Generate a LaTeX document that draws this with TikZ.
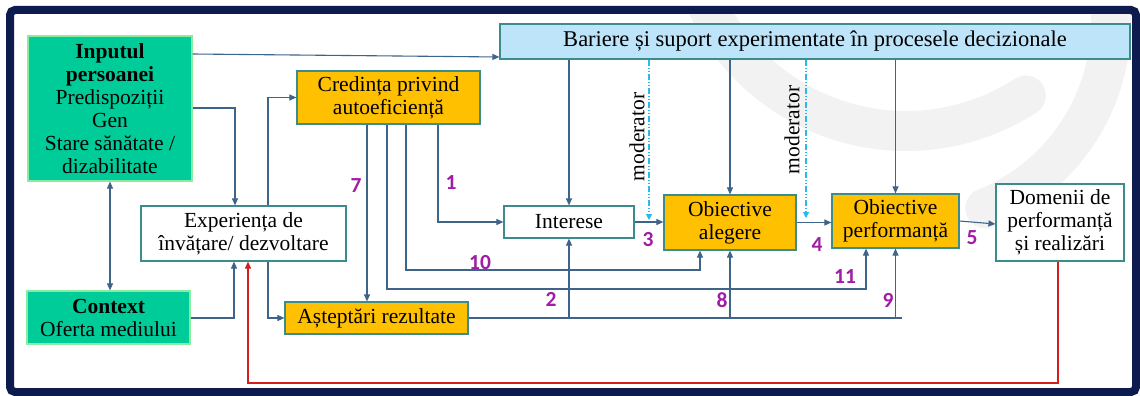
\documentclass[tikz,border=0pt]{standalone}
\usepackage{fontspec}
\setmainfont{Liberation Serif}
\newfontfamily\numfont{Carlito}
\usetikzlibrary{arrows.meta}
\definecolor{navy}{RGB}{14,27,78}
\definecolor{grn}{RGB}{0,204,153}
\definecolor{grnb}{RGB}{140,235,160}
\definecolor{yel}{RGB}{255,192,0}
\definecolor{lblue}{RGB}{190,228,250}
\definecolor{teal2}{RGB}{60,140,140}
\definecolor{arrc}{RGB}{62,100,138}
\definecolor{modc}{RGB}{40,185,240}
\definecolor{redc}{RGB}{210,30,30}
\definecolor{purp}{RGB}{160,30,165}
\definecolor{wm}{RGB}{242,242,242}
\tikzset{
  box/.style={draw=teal2, line width=1.2pt, align=center, inner sep=0pt,
    font=\fontsize{21.5}{23}\selectfont},
  gbox/.style={box, fill=grn, draw=grnb},
  ybox/.style={box, fill=yel},
  wbox/.style={box, fill=white},
  bbox/.style={box, fill=lblue, font=\fontsize{22.5}{24}\selectfont},
  arr/.style={draw=arrc, line width=1.1pt, -{Triangle[length=7pt,width=6pt]}},
  arr2/.style={draw=arrc, line width=1.1pt, {Triangle[length=7pt,width=6pt]}-{Triangle[length=7pt,width=6pt]}},
  ln/.style={draw=arrc, line width=1.1pt},
  mod/.style={draw=modc, line width=1.1pt, dash pattern=on 6pt off 2pt on 1pt off 2pt on 1pt off 2pt, -{Triangle[length=6pt,width=6pt]}},
  redarr/.style={draw=redc, line width=1.1pt, -{Triangle[length=7pt,width=6pt]}},
  num/.style={text=purp, font=\numfont\bfseries\fontsize{21.5}{24}\selectfont, inner sep=0pt},
  modtxt/.style={rotate=90, font=\fontsize{21.5}{23}\selectfont, inner sep=0pt},
  wmarc/.style={draw=wm, line width=40pt, line cap=round}
}
\begin{document}
\begin{tikzpicture}[x=1pt,y=-1pt]
\useasboundingbox (0,0) rectangle (1140,396);
\fill[white] (0,0) rectangle (1140,396);
% faint watermark arcs
\begin{scope}
\clip (14,14) rectangle (1132,388);
\draw[wmarc] (906,-89) ++(57:220) arc[start angle=57, end angle=165, radius=220];
\draw[wmarc] (910,22) ++(-40:201) arc[start angle=-40, end angle=68, radius=201];
\end{scope}
\draw[navy, line width=8pt, rounded corners=5pt] (10,10) rectangle (1136,392);

% nodes
\node[gbox, minimum width=164, minimum height=145] (inp) at (110,108.5)
  {\textbf{Inputul}\\\textbf{persoanei}\\Predispoziții\\Gen\\Stare sănătate /\\dizabilitate};
\node[bbox, minimum width=630, minimum height=35] (bar) at (815,41.5)
  {Bariere și suport experimentate în procesele decizionale};
\node[ybox, minimum width=183, minimum height=53] (cred) at (388.5,97.5)
  {Credința privind\\autoeficiență};
\node[wbox, minimum width=205, minimum height=55] (exp) at (243.5,233.5)
  {Experiența de\\învățare/ dezvoltare};
\node[gbox, minimum width=163, minimum height=53] (ctx) at (108.5,317.5)
  {\textbf{Context}\\Oferta mediului};
\node[ybox, minimum width=183, minimum height=32] (ast) at (376.5,318)
  {Așteptări rezultate};
\node[wbox, minimum width=130, minimum height=32] (int) at (569,222)
  {Interese};
\node[ybox, minimum width=132, minimum height=55] (alg) at (730,222.5)
  {Obiective\\alegere};
\node[ybox, minimum width=127, minimum height=54] (perf) at (895.5,221)
  {Obiective\\performanță};
\node[wbox, minimum width=128, minimum height=77] (dom) at (1060,222.5)
  {Domenii de\\performanță\\și realizări};

% connectors
\draw[arr] (inp.east |- 0,54) -- (bar.west |- 0,57);
\draw[arr] (inp.east |- 0,108) -| (exp.north -| 235,0);
\draw[arr2] (inp.south -| 110,0) -- (ctx.north -| 110,0);
\draw[arr] (ctx.east |- 0,318) -| (exp.south -| 234,0);
\draw[arr] (exp.north -| 268,0) |- (cred.west);
\draw[arr] (exp.south -| 268,0) |- (ast.west);
\draw[arr] (cred.south -| 367,0) -- (ast.north -| 367,0);
\draw[arr] (cred.south -| 387,0) -- (387,289) -| (perf.south -| 866,0);
\draw[arr] (cred.south -| 406,0) -- (406,270) -| (alg.south -| 700,0);
\draw[arr] (cred.south -| 438,0) |- (int.west);
\coordinate (astend) at (902,318);
\draw[ln] (ast.east) -- (astend);
\draw[arr] (int.south |- ast.east) -- (int.south);
\draw[arr] (alg.south |- ast.east) -- (alg.south);
\draw[arr] (perf.south |- ast.east) -- (perf.south);
\draw[arr] (bar.south -| int.north) -- (int.north);
\draw[arr] (bar.south -| alg.north) -- (alg.north);
\draw[arr] (bar.south -| perf.north) -- (perf.north);
\coordinate (m1) at (649,220);
\coordinate (m2) at (806,218);
\draw[mod] (bar.south -| m1) -- (m1);
\draw[mod] (bar.south -| m2) -- (m2);
\draw[arr] (int.east) -- (alg.west |- int.east);
\draw[arr] (alg.east) -- (perf.west |- alg.east);
\draw[arr] (perf.east) -- (dom.west |- 0,224);
\draw[redarr] (dom.south -| 1058,0) -- (1058,383) -| (exp.south -| 248,0);

% moderator labels
\node[modtxt] (mt1) at (637,137) {moderator};
\node[modtxt] (mt2) at (792,130) {moderator};

% numbers
\node[num] (n7) at (356,186) {7};
\node[num] (n1) at (451,183) {1};
\node[num] (n10) at (480,263) {10};
\node[num] (n2) at (551,299) {2};
\node[num] (n3) at (648,240) {3};
\node[num] (n8) at (722,300) {8};
\node[num] (n4) at (817,245) {4};
\node[num] (n11) at (845,277) {11};
\node[num] (n9) at (888,300) {9};
\node[num] (n5) at (972,238) {5};
\end{tikzpicture}
\end{document}
